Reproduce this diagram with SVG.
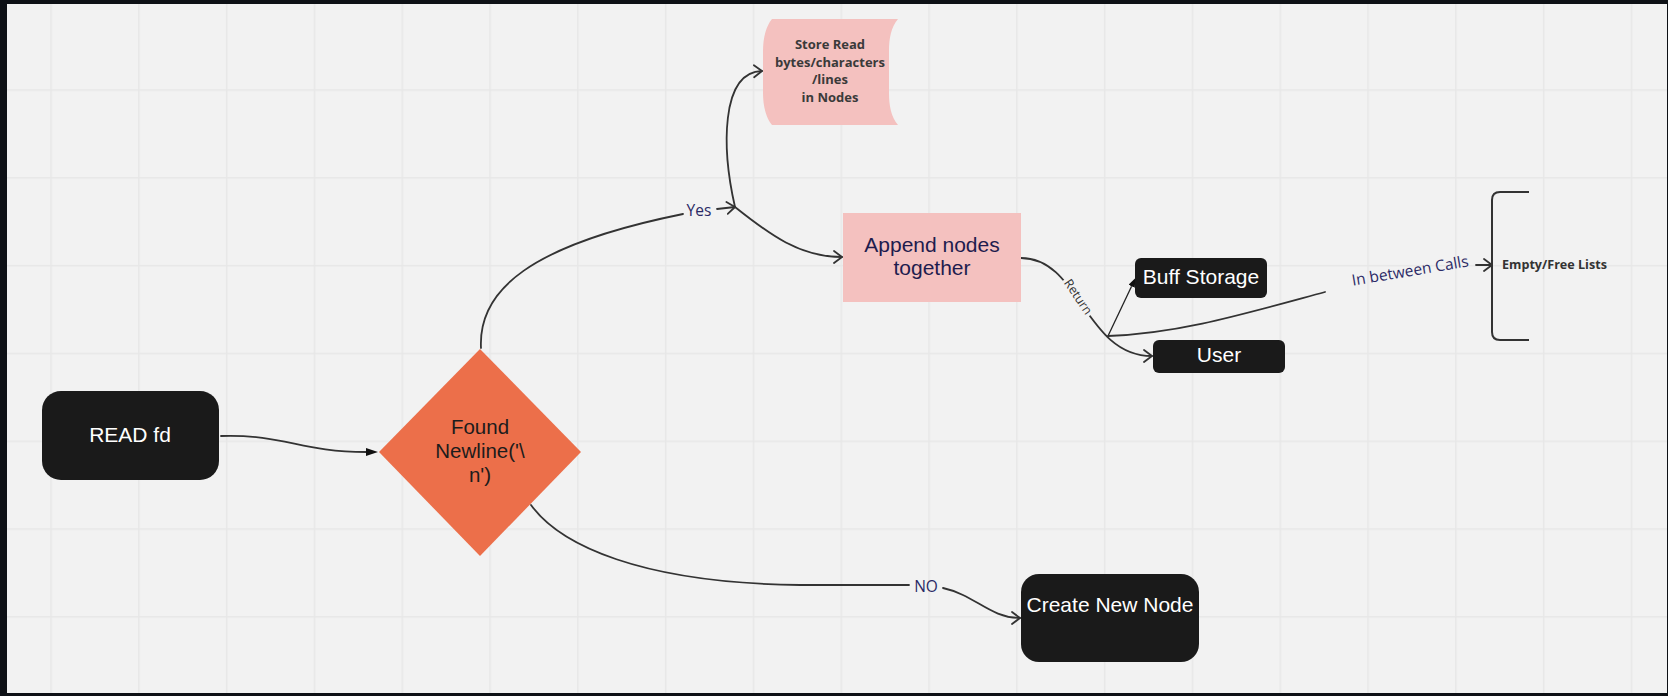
<svg xmlns="http://www.w3.org/2000/svg" width="1668" height="696" viewBox="0 0 1668 696">
<style>
.dark{fill:#1a1a1a}
.pink{fill:#f4c1bf}
.wt{fill:#ffffff;font-family:"Liberation Sans",Arial,sans-serif;font-size:21px;text-anchor:middle}
.bk{fill:#1c1c1c;font-family:"Liberation Sans",Arial,sans-serif;font-size:20.5px;text-anchor:middle}
.nv{fill:#1e1c4e;font-family:"Liberation Sans",Arial,sans-serif;font-size:21px;text-anchor:middle}
.bold{fill:#3a3a3a;font-family:"Open Sans","Noto Sans",sans-serif;font-weight:bold;font-size:13px;text-anchor:middle}
.lbl{fill:#2b2a66;font-family:"Open Sans","Noto Sans",sans-serif;font-size:15.5px;text-anchor:middle}
.conn{fill:none;stroke:#333333;stroke-width:1.8;stroke-linecap:round}
.thin{fill:none;stroke:#222222;stroke-width:1.3}
</style>
<defs>
<pattern id="grid" x="50.3" y="1.5" width="87.8" height="87.8" patternUnits="userSpaceOnUse">
<rect x="0" y="0" width="1.5" height="87.8" fill="#e7e7e7"/>
<rect x="0" y="0" width="87.8" height="1.5" fill="#e7e7e7"/>
</pattern>
<marker id="chev" markerWidth="12" markerHeight="16" refX="9" refY="7" orient="auto" markerUnits="userSpaceOnUse">
<path d="M1 1 L9 7 L1 13" fill="none" stroke="#333333" stroke-width="1.8" stroke-linecap="round" stroke-linejoin="round"/>
</marker>
<marker id="tri" markerWidth="13" markerHeight="9" refX="0" refY="4" orient="auto" markerUnits="userSpaceOnUse">
<path d="M0 0 L12 4 L0 8 Z" fill="#111111"/>
</marker>
<marker id="tri2" markerWidth="10" markerHeight="8" refX="0" refY="3.5" orient="auto" markerUnits="userSpaceOnUse">
<path d="M0 0 L9 3.5 L0 7 Z" fill="#111111"/>
</marker>
</defs>
<rect x="0" y="0" width="1668" height="696" fill="#0e1116"/>
<rect x="7" y="4" width="1660" height="689" fill="#f2f2f2"/>
<rect x="7" y="4" width="1660" height="689" fill="url(#grid)"/>

<g id="connectors">
<path class="conn" stroke-width="1.5" d="M221 436 C285 434, 300 452, 366 452" marker-end="url(#tri)"/>
<path class="conn" d="M481 348 C478 290, 530 245, 683 214"/>
<text class="lbl" x="699" y="215.5">Yes</text>
<path class="conn" d="M717 209 L735 207" marker-end="url(#chev)"/>
<path class="conn" d="M735 207 C722 150, 720 72, 762 71" marker-end="url(#chev)"/>
<path class="conn" d="M735 207 C770 235, 800 257, 842 257" marker-end="url(#chev)"/>
<path class="conn" d="M531 505 C560 545, 640 583, 800 585 L909 585"/>
<text class="lbl" x="926" y="591.5" font-size="16">NO</text>
<path class="conn" d="M943 588 C975 595, 990 618, 1020 618" marker-end="url(#chev)"/>
<path class="conn" d="M1021 258 C1080 258, 1085 356, 1152 356" marker-end="url(#chev)"/>
<rect x="1056" y="290" width="44" height="14" fill="#f2f2f2" transform="rotate(56 1078 297)"/>
<text x="1078" y="301" fill="#333333" font-family="'Open Sans','Noto Sans',sans-serif" font-size="12.5" text-anchor="middle" transform="rotate(56 1078 297)">Return</text>
<path class="thin" d="M1108 336 L1131.6 286.2" marker-end="url(#tri2)"/>
<path class="conn" d="M1108 336 C1180 333, 1240 315, 1325 292"/>
<text class="lbl" x="1411" y="276" transform="rotate(-9.5 1411 276)">In between Calls</text>
<path class="conn" d="M1476 265 L1492 265" marker-end="url(#chev)"/>
</g>

<g id="node-read">
<rect class="dark" x="42" y="391" width="177" height="89" rx="19"/>
<text class="wt" x="130" y="442">READ fd</text>
</g>

<g id="node-decision">
<polygon points="480,349 581,452 480,556 379,452" fill="#ec6f4a"/>
<text class="bk" x="480" y="434">Found</text>
<text class="bk" x="480" y="458">Newline('\</text>
<text class="bk" x="480" y="482">n')</text>
</g>

<g id="node-store">
<path class="pink" d="M772 19 H898 C891 27, 889 39, 889 51 V93 C889 105, 891 117, 898 125 H772 C766 118, 763 106, 763 93 V51 C763 38, 766 26, 772 19 Z"/>
<text class="bold" x="830" y="49">Store Read</text>
<text class="bold" x="830" y="66.6">bytes/characters</text>
<text class="bold" x="830" y="84.2">/lines</text>
<text class="bold" x="830" y="101.8">in Nodes</text>
</g>

<g id="node-append">
<rect class="pink" x="843" y="213" width="178" height="89"/>
<text class="nv" x="932" y="252">Append nodes</text>
<text class="nv" x="932" y="275">together</text>
</g>

<g id="node-buff">
<rect class="dark" x="1135" y="258" width="132" height="40" rx="6"/>
<text class="wt" x="1201" y="284">Buff Storage</text>
</g>

<g id="node-user">
<rect class="dark" x="1153" y="340" width="132" height="33" rx="6"/>
<text class="wt" x="1219" y="362">User</text>
</g>

<g id="node-lists">
<path d="M1529 192 H1500 Q1492 192 1492 200 V332 Q1492 340 1500 340 H1529" fill="none" stroke="#333333" stroke-width="2"/>
<text x="1502" y="269" fill="#333333" font-family="'Open Sans','Noto Sans',sans-serif" font-weight="bold" font-size="12.6">Empty/Free Lists</text>
</g>

<g id="node-create">
<rect class="dark" x="1021" y="574" width="178" height="88" rx="18"/>
<text class="wt" x="1110" y="612">Create New Node</text>
</g>
</svg>
